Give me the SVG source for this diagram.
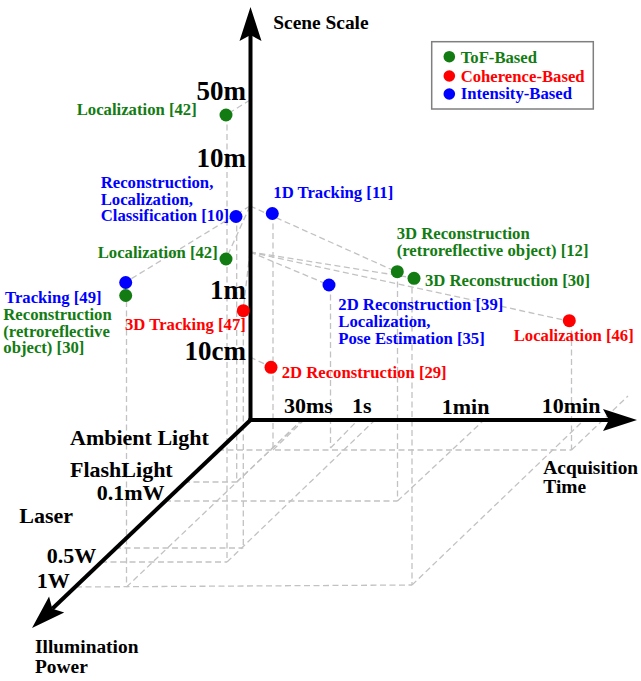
<svg xmlns="http://www.w3.org/2000/svg" width="641" height="681" viewBox="0 0 641 681">
<style>
.d{stroke:#c2c2c2;stroke-width:1.3;stroke-dasharray:6 3.5;fill:none}
.ax{stroke:#000;stroke-width:4;fill:none;marker-end:url(#arr)}
text{font-family:"Liberation Serif","Times New Roman",serif;font-weight:bold}
.lb{font-size:16.7px}
.tv{font-size:27px}
.tk{font-size:22px}
.ti{font-size:19.4px}
.g{fill:#127c12}.r{fill:#ff0000}.b{fill:#0000ff}.k{fill:#000}
</style>
<defs>
<marker id="arr" markerUnits="userSpaceOnUse" markerWidth="42" markerHeight="26" viewBox="0 0 42 26" refX="12" refY="13" orient="auto">
<path d="M40,13 L6,2 L12,13 L6,24 Z" fill="#000"/>
</marker>
</defs>
<rect width="641" height="681" fill="#fff"/>
<g id="connectors">
<line class="d" x1="250" y1="100" x2="226" y2="115"/>
<line class="d" x1="250" y1="206" x2="126" y2="282"/>
<line class="d" x1="250" y1="206" x2="226" y2="259"/>
<line class="d" x1="250" y1="206" x2="397" y2="272"/>
<line class="d" x1="250" y1="252" x2="243" y2="311"/>
<line class="d" x1="250" y1="252" x2="329" y2="285"/>
<line class="d" x1="250" y1="252" x2="414" y2="278"/>
<line class="d" x1="250" y1="252" x2="569" y2="321"/>
<line class="d" x1="250" y1="357" x2="271" y2="367"/>
<line class="d" x1="227" y1="115" x2="227" y2="562"/>
<line class="d" x1="236.7" y1="216" x2="236.7" y2="482"/>
<line class="d" x1="243.3" y1="311" x2="243.3" y2="548"/>
<line class="d" x1="126.5" y1="282" x2="126.5" y2="587"/>
<line class="d" x1="273" y1="214" x2="273" y2="450"/>
<line class="d" x1="330.5" y1="285" x2="330.5" y2="448"/>
<line class="d" x1="397.5" y1="272" x2="397.5" y2="501"/>
<line class="d" x1="412" y1="278" x2="412" y2="585"/>
<line class="d" x1="571.5" y1="321" x2="571.5" y2="450"/>
<line class="d" x1="218" y1="450" x2="571.5" y2="450"/>
<line class="d" x1="184" y1="482" x2="236.7" y2="482"/>
<line class="d" x1="165" y1="501" x2="397.5" y2="501"/>
<line class="d" x1="115" y1="548" x2="243.3" y2="548"/>
<line class="d" x1="101" y1="562" x2="227" y2="562"/>
<line class="d" x1="76" y1="587" x2="412" y2="585"/>
<line class="d" x1="227" y1="562" x2="375" y2="420"/>
<line class="d" x1="236.7" y1="482" x2="302" y2="420"/>
<line class="d" x1="126.5" y1="587" x2="302" y2="420"/>
<line class="d" x1="273" y1="450" x2="304" y2="420"/>
<line class="d" x1="330.5" y1="448" x2="358" y2="420"/>
<line class="d" x1="397.5" y1="501" x2="484" y2="420"/>
<line class="d" x1="412" y1="585" x2="584" y2="420"/>
<line class="d" x1="571.5" y1="450" x2="628" y2="396"/>
</g>
<g id="axes">
<line class="ax" x1="250.5" y1="422" x2="250.5" y2="35"/>
<line class="ax" x1="248.5" y1="420" x2="609" y2="420"/>
<line class="ax" x1="250.5" y1="420" x2="52.3" y2="608.7"/>
<text class="ti k" x="273.3" y="29.3">Scene Scale</text>
<text class="tv k" x="246" y="100" text-anchor="end">50m</text>
<text class="tv k" x="246" y="167" text-anchor="end">10m</text>
<text class="tv k" x="246" y="298.5" text-anchor="end">1m</text>
<text class="tv k" x="246" y="360" text-anchor="end">10cm</text>
<text class="tk k" x="284" y="413">30ms</text>
<text class="tk k" x="352" y="413">1s</text>
<text class="tk k" x="441.7" y="414">1min</text>
<text class="tk k" x="541.7" y="413">10min</text>
<text class="ti k" x="543.3" y="474">Acquisition</text>
<text class="ti k" x="543.3" y="492.5">Time</text>
<text class="tk k" x="70" y="445">Ambient Light</text>
<text class="tk k" x="70" y="477">FlashLight</text>
<text class="tk k" x="96.7" y="500">0.1mW</text>
<text class="tk k" x="19.3" y="523">Laser</text>
<text class="tk k" x="46.7" y="562.5">0.5W</text>
<text class="tk k" x="36.7" y="588">1W</text>
<text class="ti k" x="35" y="653.3">Illumination</text>
<text class="ti k" x="35" y="672.7">Power</text>
</g>
<g id="legend">
<rect x="431.7" y="41.7" width="161.6" height="67.3" fill="#fff" stroke="#7f7f7f" stroke-width="1.5"/>
<circle class="g" cx="449.3" cy="56.7" r="5.8"/>
<text class="lb g" x="460.7" y="62.7">ToF-Based</text>
<circle class="r" cx="449.3" cy="76" r="5.8"/>
<text class="lb r" x="460.7" y="81.7">Coherence-Based</text>
<circle class="b" cx="449.3" cy="94" r="5.8"/>
<text class="lb b" x="460.7" y="98.7">Intensity-Based</text>
</g>
<g id="n-loc42-top">
<circle class="g" cx="226" cy="115" r="6.5"/>
<text class="lb g" x="76.7" y="115">Localization [42]</text>
</g>
<g id="n-rec10">
<circle class="b" cx="236" cy="216.5" r="6.5"/>
<text class="lb b" x="100.7" y="188.3">Reconstruction,</text>
<text class="lb b" x="100.7" y="204.5">Localization,</text>
<text class="lb b" x="100.7" y="221">Classification [10]</text>
</g>
<g id="n-track11">
<circle class="b" cx="272.3" cy="213.5" r="6.5"/>
<text class="lb b" x="273.3" y="198">1D Tracking [11]</text>
</g>
<g id="n-loc42-mid">
<circle class="g" cx="226" cy="259" r="6.5"/>
<text class="lb g" x="97.7" y="258.3">Localization [42]</text>
</g>
<g id="n-track49">
<circle class="b" cx="125.7" cy="282.5" r="6.5"/>
<text class="lb b" x="5" y="303.3">Tracking [49]</text>
</g>
<g id="n-rec30-retro">
<circle class="g" cx="125.7" cy="295.5" r="6.5"/>
<text class="lb g" x="3.3" y="320">Reconstruction</text>
<text class="lb g" x="3.3" y="336.5">(retroreflective</text>
<text class="lb g" x="3.3" y="353">object) [30]</text>
</g>
<g id="n-track47">
<circle class="r" cx="243.3" cy="310.7" r="6.5"/>
<text class="lb r" x="125" y="330">3D Tracking [47]</text>
</g>
<g id="n-rec29">
<circle class="r" cx="271" cy="367.3" r="6.5"/>
<text class="lb r" x="281.7" y="377.5">2D Reconstruction [29]</text>
</g>
<g id="n-rec39">
<circle class="b" cx="329" cy="285" r="6.5"/>
<text class="lb b" x="338.3" y="310">2D Reconstruction [39]</text>
<text class="lb b" x="338.3" y="326.7">Localization,</text>
<text class="lb b" x="338.3" y="344">Pose Estimation [35]</text>
</g>
<g id="n-rec12">
<circle class="g" cx="397.3" cy="271.7" r="6.5"/>
<text class="lb g" x="396.7" y="239.3">3D Reconstruction</text>
<text class="lb g" x="396.7" y="256">(retroreflective object) [12]</text>
</g>
<g id="n-rec30">
<circle class="g" cx="414" cy="278.3" r="6.5"/>
<text class="lb g" x="425" y="286">3D Reconstruction [30]</text>
</g>
<g id="n-loc46">
<circle class="r" cx="569.3" cy="320.7" r="6.5"/>
<text class="lb r" x="513.7" y="340.5">Localization [46]</text>
</g>
</svg>
